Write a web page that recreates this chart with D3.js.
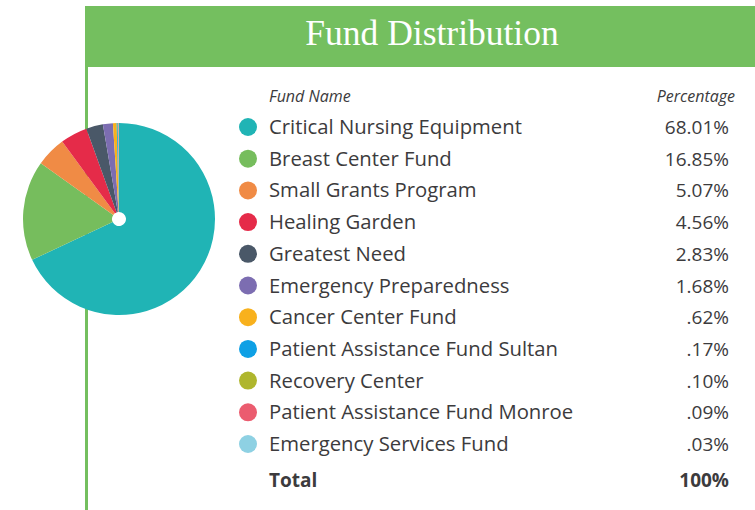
<!DOCTYPE html>
<html>
<head>
<meta charset="utf-8">
<script src="https://cdn.jsdelivr.net/npm/d3@7"></script>
<style>
  body { margin: 0; background: #fff; }
</style>
</head>
<body>
<div id="chart"></div>
<script>
const fundNames = [
    "Critical Nursing Equipment", "Breast Center Fund", "Small Grants Program",
    "Healing Garden", "Greatest Need", "Emergency Preparedness", "Cancer Center Fund",
    "Patient Assistance Fund Sultan", "Recovery Center", "Patient Assistance Fund Monroe",
    "Emergency Services Fund"
];
const fundValues = [68.01, 16.85, 5.07, 4.56, 2.83, 1.68, 0.62, 0.17, 0.10, 0.09, 0.03];
const valueLabels = ["68.01%", "16.85%", "5.07%", "4.56%", "2.83%", "1.68%", ".62%", ".17%", ".10%", ".09%", ".03%"];
const fundColors = ["#20b4b5", "#76bd5d", "#f08b45", "#e52b49", "#4a5868", "#7c6db1",
    "#f8b11d", "#0ea0e5", "#afb62d", "#eb5c6f", "#8ed1e3"];
const totalLabel = "100%";

const W = 755, H = 510;
const green = "#74bf5f";
const textColor = "#3c3b3d";
const font = "'Open Sans', sans-serif";

const svg = d3.select("#chart").append("svg")
    .attr("width", W)
    .attr("height", H);

// header bar + vertical rule
svg.append("rect")
    .attr("x", 85).attr("y", 6)
    .attr("width", W - 85).attr("height", 61)
    .attr("fill", green);

svg.append("rect")
    .attr("x", 85).attr("y", 67)
    .attr("width", 3).attr("height", H - 67)
    .attr("fill", green);

svg.append("text")
    .attr("x", 432).attr("y", 45)
    .attr("text-anchor", "middle")
    .attr("fill", "#fff")
    .style("font-family", "'Liberation Serif', serif")
    .style("font-size", "35.5px")
    .text("Fund Distribution");

// pie
const cx = 119, cy = 219, r = 96;
const pie = d3.pie().sort(null).value(d => d)(fundValues);
const arc = d3.arc().innerRadius(7).outerRadius(r);

svg.append("g")
    .attr("transform", `translate(${cx},${cy})`)
    .selectAll("path")
    .data(pie)
    .enter()
    .append("path")
    .attr("d", arc)
    .attr("fill", (d, i) => fundColors[i]);

// table
const rowY = d3.scalePoint()
    .domain(fundNames)
    .range([127, 444]);

svg.append("text")
    .attr("x", 269).attr("y", 102)
    .attr("fill", textColor)
    .style("font-family", font)
    .style("font-style", "italic")
    .style("font-size", "16px")
    .text("Fund Name");

svg.append("text")
    .attr("x", 735).attr("y", 102)
    .attr("text-anchor", "end")
    .attr("fill", textColor)
    .style("font-family", font)
    .style("font-style", "italic")
    .style("font-size", "16px")
    .text("Percentage");

const rows = svg.selectAll(".row")
    .data(fundNames)
    .enter()
    .append("g")
    .attr("class", "row")
    .attr("transform", d => `translate(0,${rowY(d)})`);

rows.append("circle")
    .attr("cx", 248).attr("cy", 0)
    .attr("r", 9)
    .attr("fill", (d, i) => fundColors[i]);

rows.append("text")
    .attr("x", 269).attr("y", 7)
    .attr("fill", textColor)
    .style("font-family", font)
    .style("font-size", "20.3px")
    .text(d => d);

rows.append("text")
    .attr("x", 729).attr("y", 7)
    .attr("text-anchor", "end")
    .attr("fill", textColor)
    .style("font-family", font)
    .style("font-size", "19px")
    .text((d, i) => valueLabels[i]);

svg.append("text")
    .attr("x", 269).attr("y", 487)
    .attr("fill", textColor)
    .style("font-family", font)
    .style("font-weight", "bold")
    .style("font-size", "19px")
    .text("Total");

svg.append("text")
    .attr("x", 729).attr("y", 487)
    .attr("text-anchor", "end")
    .attr("fill", textColor)
    .style("font-family", font)
    .style("font-weight", "bold")
    .style("font-size", "19px")
    .text(totalLabel);
</script>
</body>
</html>
